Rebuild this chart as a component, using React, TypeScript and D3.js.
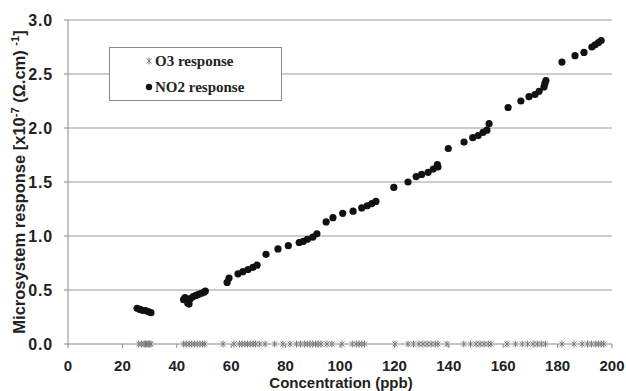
import React from "react";
import * as d3 from "d3";

const xTicks = [0, 20, 40, 60, 80, 100, 120, 140, 160, 180, 200];
const yTicks = [0, 0.5, 1.0, 1.5, 2.0, 2.5, 3.0];

const no2X = [25.4, 26.5, 27.5, 28.5, 29.5, 30.5, 42.5, 43, 44, 44.5, 45, 46, 47, 48, 49, 50, 50.5,
  58.5, 59.2, 62.5, 64.3, 66.2, 68, 69.5, 72.8, 77.2, 81, 85, 86.5, 88, 90, 91.5,
  94.9, 97.4, 101, 104.8, 108, 110, 111.7, 113.2, 119.8, 125, 128, 130, 132.4, 134.3, 135.8, 136,
  139.8, 145.6, 148.8, 150.8, 152.6, 154, 154.8, 161.8, 166.5, 169.5, 171.7, 173.2, 175, 175.3, 175.7,
  181.6, 186.4, 189.7, 192.6, 193.8, 195, 196];
const no2Y = [0.33, 0.32, 0.31, 0.31, 0.30, 0.29, 0.41, 0.43, 0.38, 0.37, 0.42, 0.44, 0.45, 0.46, 0.47, 0.48, 0.49,
  0.57, 0.61, 0.65, 0.67, 0.69, 0.71, 0.73, 0.83, 0.88, 0.91, 0.94, 0.95, 0.97, 0.99, 1.02,
  1.13, 1.17, 1.21, 1.23, 1.26, 1.28, 1.30, 1.32, 1.45, 1.50, 1.55, 1.57, 1.59, 1.62, 1.66, 1.64,
  1.81, 1.87, 1.91, 1.93, 1.96, 1.98, 2.04, 2.19, 2.25, 2.29, 2.31, 2.34, 2.38, 2.41, 2.44,
  2.61, 2.67, 2.70, 2.75, 2.77, 2.79, 2.81];

const o3X = [26, 27, 28, 28.5, 29, 29.5, 30, 30.5,
  42.5, 43.5, 44.5, 45.5, 46.5, 47.5, 48.5, 49.5, 50.3,
  57, 61, 63, 64, 65, 66, 67, 68, 69, 70.5, 72.5,
  76, 79, 81.6, 84, 85.5, 87, 88, 89, 90, 91, 92, 93, 95.2, 97, 100.7,
  104.5, 106, 107, 108, 109, 120.2, 125, 127, 129, 130.5, 132, 133.5, 135, 136,
  139.3, 145.5, 148, 150, 151.5, 153, 154.5, 155.5, 161.4, 164.5, 167, 169, 171, 172.5, 174, 175.5,
  181.6, 186, 189, 191, 192.5, 194, 195, 196, 197];
const o3Y = o3X.map(() => 0);

const seriesNames = ["O3 response", "NO2 response"];

const W = 626, H = 391;
const L = 68, R = 612, T = 20, B = 344;

export default function App() {
  const x = d3.scaleLinear().domain([0, 200]).range([L, R]);
  const y = d3.scaleLinear().domain([0, 3]).range([B, T]);
  const font = "'Liberation Sans', Arial, sans-serif";
  const serif = "'Liberation Serif', 'Times New Roman', serif";
  const txt = "#222";
  const star = (cx: number, cy: number, s: number, k: number) => (
    <g key={k} stroke="#7a7a7a" strokeWidth={1}>
      <line x1={cx - s} y1={cy - s} x2={cx + s} y2={cy + s} />
      <line x1={cx - s} y1={cy + s} x2={cx + s} y2={cy - s} />
      <line x1={cx} y1={cy - s - 1} x2={cx} y2={cy + s + 1} />
    </g>
  );
  return (
    <div style={{ position: "fixed", left: 0, top: 0 }}>
      <svg width={W} height={H} style={{ display: "block", background: "#fff" }}>
        {yTicks.filter((t) => t > 0).map((t) => (
          <line key={t} x1={L} x2={R} y1={y(t)} y2={y(t)} stroke="#9a9a9a" strokeWidth={1} />
        ))}
        <line x1={L} x2={L} y1={T} y2={B} stroke="#8a8a8a" />
        <line x1={L} x2={R} y1={B} y2={B} stroke="#8a8a8a" />
        {yTicks.map((t) => (
          <g key={t}>
            <line x1={L - 4} x2={L} y1={y(t)} y2={y(t)} stroke="#8a8a8a" />
            <text x={L - 15} y={y(t) + 5.5} textAnchor="end" fontFamily={font} fontWeight="bold" fontSize={16} letterSpacing={0.8} fill={txt}>
              {t.toFixed(1)}
            </text>
          </g>
        ))}
        {xTicks.map((t) => (
          <g key={t}>
            <line x1={x(t)} x2={x(t)} y1={B} y2={B + 4} stroke="#8a8a8a" />
            <text x={x(t)} y={B + 27} textAnchor="middle" fontFamily={font} fontWeight="bold" fontSize={15} fill={txt}>
              {t}
            </text>
          </g>
        ))}
        {o3X.map((v, i) => star(x(v), y(o3Y[i]), 2.5, i))}
        {no2X.map((v, i) => (
          <circle key={i} cx={x(v)} cy={y(no2Y[i])} r={3.6} fill="#111" />
        ))}
        <rect x={109.5} y={47.5} width={172} height={53} fill="#fff" stroke="#8a8a8a" />
        {star(149, 61, 2.5, -1)}
        <text x={155} y={66} fontFamily={serif} fontWeight="bold" fontSize={15} fill={txt}>
          {seriesNames[0]}
        </text>
        <circle cx={149} cy={87} r={3.2} fill="#111" />
        <text x={155} y={92} fontFamily={serif} fontWeight="bold" fontSize={15} fill={txt}>
          {seriesNames[1]}
        </text>
        <text x={341} y={388} textAnchor="middle" fontFamily={font} fontWeight="bold" fontSize={15} fill={txt}>
          Concentration (ppb)
        </text>
        <text transform="translate(25,182) rotate(-90)" textAnchor="middle" fontFamily={font} fontWeight="bold" fontSize={16.5} fill={txt}>
          Microsystem response [x10
          <tspan fontSize={11} dy={-6}>-7</tspan>
          <tspan dy={6}> (Ω.cm) </tspan>
          <tspan fontSize={11} dy={-6}>-1</tspan>
          <tspan dy={6}>]</tspan>
        </text>
      </svg>
    </div>
  );
}
